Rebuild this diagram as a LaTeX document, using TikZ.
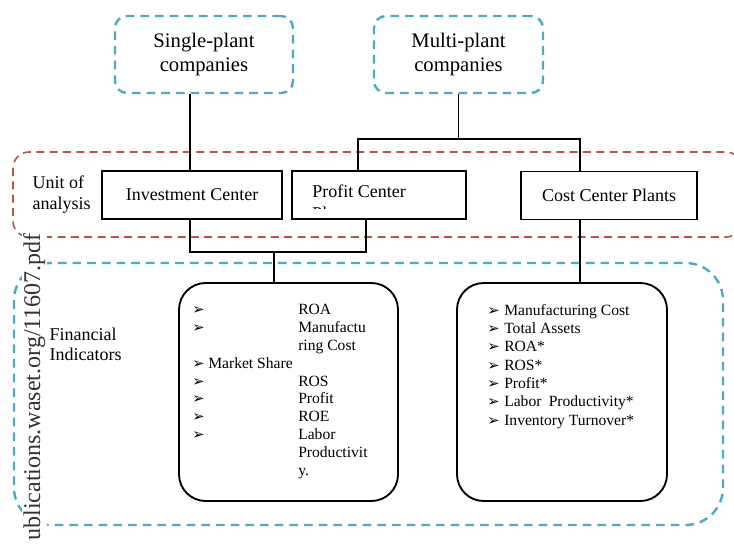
\documentclass[tikz,border=0pt]{standalone}
\usepackage{fontspec}
\setmainfont{Liberation Serif}
\newfontfamily\arrowfont{DejaVu Sans}
\definecolor{framecyan}{RGB}{75,172,198}
\definecolor{framered}{RGB}{192,80,77}
\newcommand{\pointer}{{\arrowfont\fontsize{11}{11}\selectfont ➢}}

\begin{document}
\begin{tikzpicture}[x=0.75pt,y=-0.75pt,
  cyanframe/.style={draw=framecyan, line width=1.8pt, dash pattern=on 6.5pt off 4.5pt},
  redframe/.style={draw=framered, line width=1.2pt, dash pattern=on 6pt off 4pt},
  company/.style={cyanframe, rounded corners=9pt, align=center, font=\fontsize{15.5}{17.5}\selectfont},
  unitbox/.style={draw, line width=1.1pt, minimum width=#1, minimum height=36pt, font=\fontsize{13.5}{15}\selectfont},
  listbox/.style={draw, line width=1.4pt, rounded corners=20pt, minimum width=#1, minimum height=163.5pt},
  sidelabel/.style={anchor=base west, font=\fontsize{13.5}{15}\selectfont},
  item/.style={anchor=base west, inner sep=0pt, font=\fontsize{11.7}{13}\selectfont},
  pointermark/.style={anchor=base west, inner sep=0pt}
]
\useasboundingbox (0,0) rectangle (734,544);

% frames
\draw[redframe, rounded corners=12pt] (13,152) rectangle (742,237);
\draw[cyanframe, rounded corners=28pt] (14,263) rectangle (723,525);

% companies
\node[company, minimum width=133.5pt, minimum height=57.75pt] (single) at (204,54.5) {Single-plant\\companies};
\node[company, minimum width=126.75pt, minimum height=57.75pt] (multi) at (458.5,54.5) {Multi-plant\\companies};

% unit of analysis
\node[sidelabel] (unitA) at (28,188) {Unit of};
\node[sidelabel] (unitB) at (28,209) {analysis};
\node[unitbox=135pt] (inv) at (192,195) {Investment Center};
\node[unitbox=130.5pt] (profit) at (379,195) {};
\node[sidelabel, inner sep=0pt] (profitT) at (312,197) {Profit Center};
\begin{scope}
\clip (profit.north west) rectangle (profit.east |- 0,208.5);
\node[sidelabel, inner sep=0pt] (profitP) at (312,219.5) {Plants};
\end{scope}
\node[unitbox=132pt] (cost) at (609,195.5) {Cost Center Plants};

% financial indicators
\node[sidelabel] (finA) at (45,340) {Financial};
\node[sidelabel] (finB) at (45,360) {Indicators};
\node[listbox=164.25pt] (left) at (288.5,392) {};
\node[listbox=157.5pt] (right) at (562,392) {};

\node[pointermark] (lm1) at (192,314) {\pointer};
\node[item] (l1) at (298,314) {ROA};
\node[pointermark] (lm2) at (192,332) {\pointer};
\node[item] (l2) at (298,332) {Manufactu};
\node[item] (l2b) at (298,350) {ring Cost};
\node[pointermark] (lm3) at (192,368) {\pointer};
\node[item] (l3) at (208,368) {Market Share};
\node[pointermark] (lm4) at (192,386) {\pointer};
\node[item] (l4) at (298,386) {ROS};
\node[pointermark] (lm5) at (192,403) {\pointer};
\node[item] (l5) at (298,403) {Profit};
\node[pointermark] (lm6) at (192,421) {\pointer};
\node[item] (l6) at (298,421) {ROE};
\node[pointermark] (lm7) at (192,439) {\pointer};
\node[item] (l7) at (298,439) {Labor};
\node[item] (l7b) at (298,457) {Productivit};
\node[item] (l7c) at (298,475) {y.};

\node[pointermark] (rm1) at (487,315) {\pointer};
\node[item] (r1) at (504,315) {Manufacturing Cost};
\node[pointermark] (rm2) at (487,333) {\pointer};
\node[item] (r2) at (504,333) {Total Assets};
\node[pointermark] (rm3) at (487,351) {\pointer};
\node[item] (r3) at (504,351) {ROA*};
\node[pointermark] (rm4) at (487,370) {\pointer};
\node[item] (r4) at (504,370) {ROS*};
\node[pointermark] (rm5) at (487,388) {\pointer};
\node[item] (r5) at (504,388) {Profit*};
\node[pointermark] (rm6) at (487,406) {\pointer};
\node[item] (r6) at (504,406) {Labor\hspace{2.5pt} Productivity*};
\node[pointermark] (rm7) at (487,425) {\pointer};
\node[item] (r7) at (504,425) {Inventory Turnover*};

% watermark
\node[rotate=90, anchor=base west, inner sep=1pt, fill=white, text=black!80, font=\fontsize{18}{18}\selectfont] (wm) at (40,542) {ublications.waset.org/11607.pdf};

% connectors
\coordinate (pin) at (358,139);
\coordinate (cin) at (580,139);
\coordinate (iout) at (190,252);
\coordinate (pout) at (366,252);
\coordinate (fin) at (274,252);
\draw[line width=1.1pt] (single.south -| iout) -- (inv.north -| iout);
\draw[line width=1.1pt] (multi.south) -- (multi.south |- pin);
\draw[line width=1.1pt] (profit.north -| pin) -- (pin) -- (cin) -- (cost.north -| cin);
\draw[line width=1.1pt] (inv.south -| iout) -- (iout) -- (pout) -- (profit.south -| pout);
\draw[line width=1.1pt] (fin) -- (left.north -| fin);
\draw[line width=1.1pt] (cost.south -| cin) -- (right.north -| cin);
\end{tikzpicture}
\end{document}
